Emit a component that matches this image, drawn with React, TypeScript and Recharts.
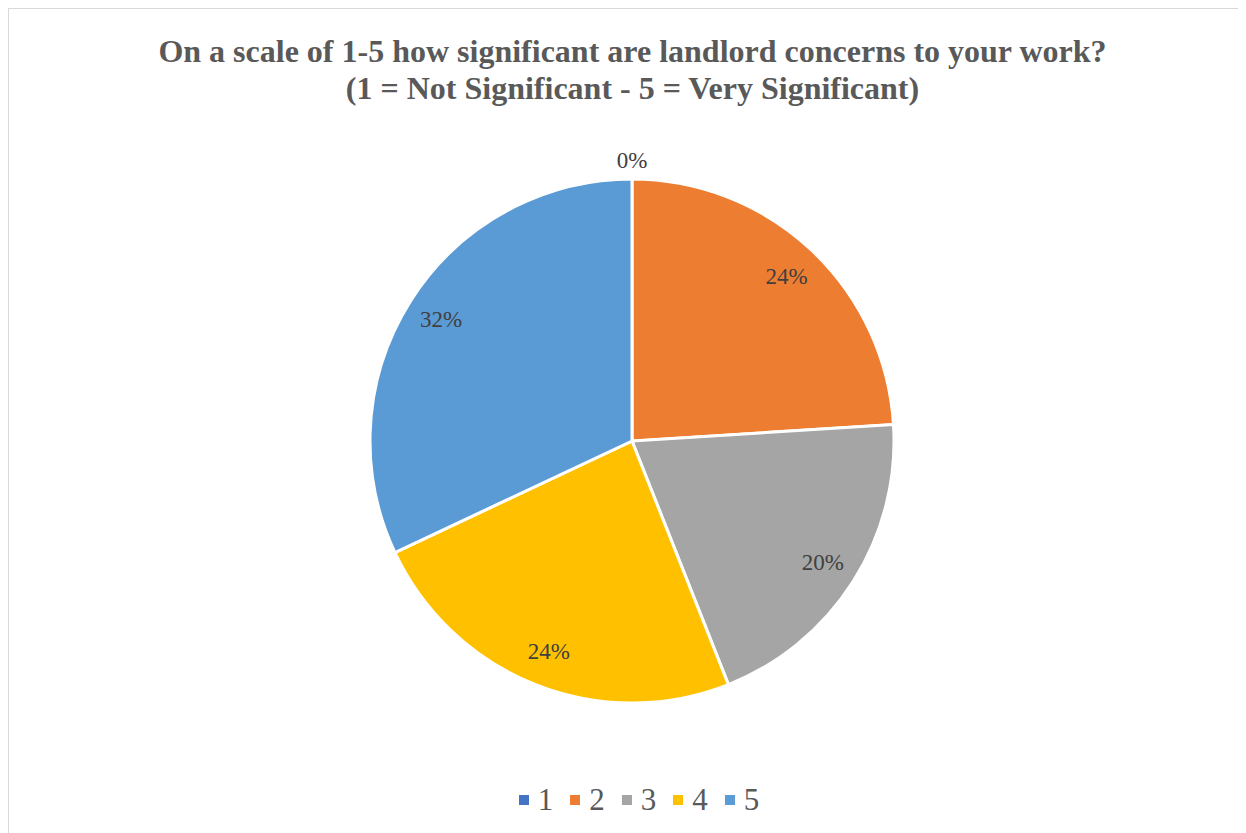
import React from "react";
import { PieChart, Pie, Cell, Legend } from "recharts";

const categories = ["1", "2", "3", "4", "5"];
const values = [0, 24, 20, 24, 32];
const colors = ["#4472C4", "#ED7D31", "#A5A5A5", "#FFC000", "#5B9BD5"];
const titleLines = [
  "On a scale of 1-5 how significant are landlord concerns to your work?",
  "(1 = Not Significant - 5 = Very Significant)",
];

const data = categories.map((c, i) => ({ name: c, value: values[i] }));

const RAD = Math.PI / 180;
const FONT = "'Liberation Serif', 'Times New Roman', serif";

const renderLabel = (props: any) => {
  const { cx, cy, midAngle, outerRadius, value } = props;
  const r = value === 0 ? outerRadius + 19 : outerRadius - 36;
  const x = cx + r * Math.cos(-midAngle * RAD);
  const y = cy + r * Math.sin(-midAngle * RAD);
  return (
    <text
      x={x}
      y={y}
      fill="#404040"
      fontFamily={FONT}
      fontSize={23}
      textAnchor="middle"
      dominantBaseline="central"
    >
      {`${value}%`}
    </text>
  );
};

const LegendContent = () => (
  <div
    style={{
      display: "flex",
      justifyContent: "center",
      alignItems: "center",
      fontFamily: FONT,
      fontSize: 31,
      lineHeight: "32px",
      color: "#595959",
      paddingLeft: 23,
    }}
  >
    {categories.map((c, i) => (
      <div key={c} style={{ display: "flex", alignItems: "center", marginRight: i < categories.length - 1 ? 17 : 0 }}>
        <span style={{ display: "inline-block", width: 10, height: 10, background: colors[i], marginRight: 9 }} />
        <span>{c}</span>
      </div>
    ))}
  </div>
);

export default function App() {
  return (
    <div
      style={{
        position: "relative",
        width: 1237,
        height: 824,
        borderLeft: "1px solid #d9d9d9",
        borderTop: "1px solid #d9d9d9",
        background: "#fff",
      }}
    >
      <div
        style={{
          position: "absolute",
          top: 24,
          left: 5,
          width: "100%",
          textAlign: "center",
          fontFamily: FONT,
          fontWeight: "bold",
          fontSize: 32,
          lineHeight: "37px",
          color: "#595959",
        }}
      >
        {titleLines.map((t) => (
          <div key={t}>{t}</div>
        ))}
      </div>
      <PieChart width={1237} height={824} margin={{ top: 0, right: 0, bottom: 0, left: 0 }}>
        <Pie
          data={data}
          dataKey="value"
          nameKey="name"
          cx={623}
          cy={432}
          outerRadius={262}
          startAngle={90}
          endAngle={-270}
          stroke="#ffffff"
          strokeWidth={3}
          label={renderLabel}
          labelLine={false}
          isAnimationActive={false}
        >
          {data.map((d, i) => (
            <Cell key={d.name} fill={colors[i]} />
          ))}
        </Pie>
        <Legend
          verticalAlign="bottom"
          align="center"
          content={<LegendContent />}
          wrapperStyle={{ bottom: 17 }}
        />
      </PieChart>
    </div>
  );
}
